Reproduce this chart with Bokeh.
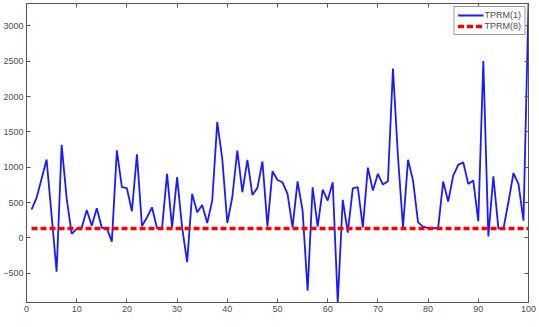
from bokeh.plotting import figure
from bokeh.models import Range1d, LinearAxis, FixedTicker, Legend, LegendItem
from bokeh.embed import file_html
from bokeh.resources import INLINE

x_vals = list(range(1, 101))
tprm1 = [401, 567, 836, 1110, 320, -478, 1318, 560, 57, 130,
         145, 397, 174, 420, 145, 136, -52, 1240, 718, 704,
         378, 1185, 170, 290, 434, 137, 137, 907, 150, 860,
         150, -340, 624, 363, 468, 212, 529, 1639, 1120, 212,
         580, 1238, 647, 1106, 609, 709, 1082, 165, 944, 820,
         788, 624, 150, 800, 387, -747, 718, 160, 685, 529,
         788, -913, 540, 75, 703, 718, 150, 995, 671, 907,
         756, 803, 2396, 1150, 150, 1106, 812, 221, 160, 140,
         140, 140, 798, 515, 883, 1035, 1072, 765, 812, 236,
         2505, 23, 873, 137, 128, 505, 916, 765, 245, 3318]
tprm8 = [135] * 100
x_ticks = [0, 10, 20, 30, 40, 50, 60, 70, 80, 90, 100]
y_ticks = [-500, 0, 500, 1000, 1500, 2000, 2500, 3000]

FONT = "Liberation Sans"
AX = "#555555"
TXT = "#4d4d4d"

p = figure(width=539, height=327, output_backend="svg", toolbar_location=None,
           x_range=Range1d(0, 100), y_range=Range1d(-913, 3318),
           min_border_left=26, min_border_right=11, min_border_top=3, min_border_bottom=25,
           x_axis_location=None, y_axis_location=None)
p.background_fill_color = "white"
p.border_fill_color = "white"
p.outline_line_color = AX
p.xgrid.visible = False
p.ygrid.visible = False

def style(ax, ticks, labels=True):
    ax.ticker = FixedTicker(ticks=ticks)
    ax.axis_line_color = AX
    ax.major_tick_line_color = AX
    ax.major_tick_in = 4
    ax.major_tick_out = 0
    ax.minor_tick_line_color = None
    ax.major_label_text_font = FONT
    if labels:
        ax.major_label_text_color = TXT
        ax.major_label_text_font_size = "9px"
        ax.major_label_standoff = 3
    else:
        ax.major_label_text_color = None
        ax.major_label_text_font_size = "1px"
        ax.major_label_standoff = 0

bx = LinearAxis(); style(bx, x_ticks); p.add_layout(bx, "below")
ly = LinearAxis(); style(ly, y_ticks); p.add_layout(ly, "left")
tx = LinearAxis(); style(tx, x_ticks, False); p.add_layout(tx, "above")
ry = LinearAxis(); style(ry, y_ticks, False); p.add_layout(ry, "right")

r1 = p.line(x_vals, tprm1, line_color="#1a1aff", line_width=1.8)
r8 = p.line(x_vals, tprm8, line_color="#ff0000", line_width=3.5, line_dash="6 3")

leg = Legend(items=[LegendItem(label="TPRM(1)", renderers=[r1]),
                    LegendItem(label="TPRM(8)", renderers=[r8])],
             location="top_right")
leg.label_text_font = FONT
leg.label_text_font_size = "9px"
leg.label_text_color = TXT
leg.glyph_width = 26
leg.glyph_height = 10
leg.label_height = 10
leg.label_standoff = 1
leg.padding = 3
leg.spacing = 1
leg.margin = 3
leg.border_line_color = "#333333"
leg.background_fill_alpha = 1.0
p.add_layout(leg)

open("out.html", "w").write(file_html(p, INLINE))
